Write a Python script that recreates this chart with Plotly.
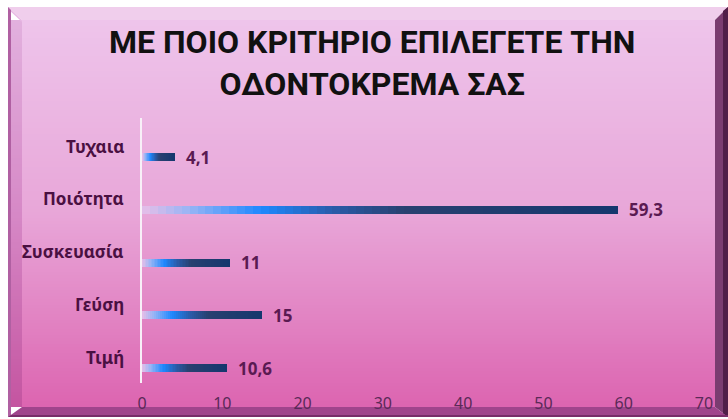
import plotly.graph_objects as go

# ---------------- data ----------------
categories = ["Τιμή", "Γεύση", "Συσκευασία", "Ποιότητα", "Τυχαια"]
values = [10.6, 15, 11, 59.3, 4.1]
value_labels = ["10,6", "15", "11", "59,3", "4,1"]
x_ticks = [0, 10, 20, 30, 40, 50, 60, 70]
title_text = "ΜΕ ΠΟΙΟ ΚΡΙΤΗΡΙΟ ΕΠΙΛΕΓΕΤΕ ΤΗΝ<br>ΟΔΟΝΤΟΚΡΕΜΑ ΣΑΣ"

# ---------------- geometry helpers ----------------
W, H = 728, 419
L, R, T, B = 142, 704, 118, 383


def px(x):
    return (x - L) / (R - L)


def py(y):
    return (B - y) / (B - T)


def lerp_stops(stops, t):
    t = max(0.0, min(1.0, t))
    for (t0, c0), (t1, c1) in zip(stops[:-1], stops[1:]):
        if t0 <= t <= t1:
            f = 0 if t1 == t0 else (t - t0) / (t1 - t0)
            c = [round(a + (b - a) * f) for a, b in zip(c0, c1)]
            return "rgb(%d,%d,%d)" % tuple(c)
    c = stops[-1][1]
    return "rgb(%d,%d,%d)" % tuple(c)


face_stops = [(0.0, (238, 196, 235)), (0.5, (232, 166, 216)), (1.0, (220, 100, 176))]
left_stops = [(0.0, (226, 176, 222)), (0.5, (214, 136, 198)), (1.0, (196, 84, 160))]
bar_stops = [
    (0.0, (232, 190, 232)),
    (0.1, (150, 180, 245)),
    (0.25, (30, 136, 255)),
    (0.4, (42, 92, 170)),
    (0.55, (40, 64, 112)),
    (1.0, (20, 55, 110)),
]

shapes = []
FX0, FX1, FY0, FY1 = 22, 715, 20, 407
OX0, OX1, OY0, OY1 = 8, 728, 7, 417

# face gradient stripes
step = 3
y = FY0
while y < FY1:
    y2 = min(y + step + 0.5, FY1)
    col = lerp_stops(face_stops, (y - FY0) / (FY1 - FY0))
    shapes.append(dict(type="rect", xref="paper", yref="paper", layer="below",
                       x0=px(FX0), x1=px(FX1), y0=py(y), y1=py(y2),
                       fillcolor=col, line=dict(width=0)))
    # left bevel stripe
    shapes.append(dict(type="rect", xref="paper", yref="paper", layer="below",
                       x0=px(OX0), x1=px(FX0), y0=py(y), y1=py(y2),
                       fillcolor=lerp_stops(left_stops, (y - FY0) / (FY1 - FY0)),
                       line=dict(width=0)))
    y += step


def poly(points, color):
    d = "M " + " L ".join("%f,%f" % (px(a), py(b)) for a, b in points) + " Z"
    return dict(type="path", xref="paper", yref="paper", layer="below", path=d,
                fillcolor=color, line=dict(width=0))


# bevels
shapes.append(poly([(OX0, OY0), (OX1, OY0), (FX1, FY0), (FX0, FY0)], "rgb(240,206,236)"))
shapes.append(poly([(OX0, OY0), (FX0, FY0), (FX0, FY0 + 2), (OX0, OY0 + 2)], "rgb(232,186,228)"))
shapes.append(poly([(FX1, FY0), (OX1, OY0), (OX1, OY1), (FX1, FY1)], "rgb(122,60,112)"))
shapes.append(poly([(OX1 - 5, OY0 + 4), (OX1, OY0), (OX1, OY1), (OX1 - 5, OY1 - 3)], "rgb(80,30,72)"))
shapes.append(poly([(OX0, OY1), (FX0, FY1), (FX1, FY1), (OX1, OY1)], "rgb(160,68,140)"))
shapes.append(poly([(OX0, OY1 - 2), (OX1, OY1 - 2), (OX1, OY1), (OX0, OY1)], "rgb(120,44,104)"))
shapes.append(poly([(OX0, OY0), (OX0 + 3, OY0 + 3), (OX0 + 3, OY1 - 2), (OX0, OY1)], "rgb(176,96,162)"))

# ---------------- traces ----------------
fig = go.Figure()
N = 60
for i in range(N):
    t = i / N
    col = lerp_stops(bar_stops, t + 0.5 / N)
    fig.add_trace(go.Bar(
        orientation="h",
        y=categories,
        x=[v * (1 - t) for v in values],
        base=[v * t for v in values],
        width=0.152,
        marker=dict(color=col, line=dict(width=0)),
        hoverinfo="skip",
        showlegend=False,
    ))

annotations = []
for c, v, lab in zip(categories, values, value_labels):
    annotations.append(dict(x=v, y=c, xref="x", yref="y", text=lab, showarrow=False,
                            xanchor="left", yanchor="middle", xshift=9, yshift=0,
                            font=dict(family="Noto Sans", size=17, color="#5a1a52", weight=700)))
    annotations.append(dict(x=0, y=c, xref="x", yref="y", text=c, showarrow=False,
                            xanchor="right", yanchor="middle", xshift=-16, yshift=11,
                            font=dict(family="Noto Sans", size=17, color="#4a1042", weight=700)))

annotations.append(dict(x=px(372), y=py(63), xref="paper", yref="paper", text=title_text,
                        showarrow=False, xanchor="center", yanchor="middle",
                        font=dict(family="Liberation Sans Narrow, Roboto, sans-serif", size=32,
                                  color="#111111", weight=700)))

fig.update_layout(
    width=W, height=H,
    margin=dict(l=L, r=W - R, t=T, b=H - B, pad=0, autoexpand=False),
    paper_bgcolor="white",
    plot_bgcolor="rgba(0,0,0,0)",
    barmode="overlay",
    bargap=0,
    shapes=shapes,
    annotations=annotations,
    showlegend=False,
    xaxis=dict(range=[0, 70], tickvals=x_ticks, ticktext=[str(t) for t in x_ticks],
               showgrid=False, zeroline=False, showline=False, automargin=False,
               ticks="outside", ticklen=6, tickcolor="rgba(0,0,0,0)",
               tickfont=dict(family="Noto Sans", size=16, color="#5a2a58"), fixedrange=True),
    yaxis=dict(type="category", categoryorder="array", categoryarray=categories,
               range=[-0.284, 4.74], showticklabels=False, showgrid=False, zeroline=False,
               automargin=False,
               showline=True, linecolor="#f8f0f8", linewidth=2, ticks="", fixedrange=True),
)

fig.write_html("out.html")
